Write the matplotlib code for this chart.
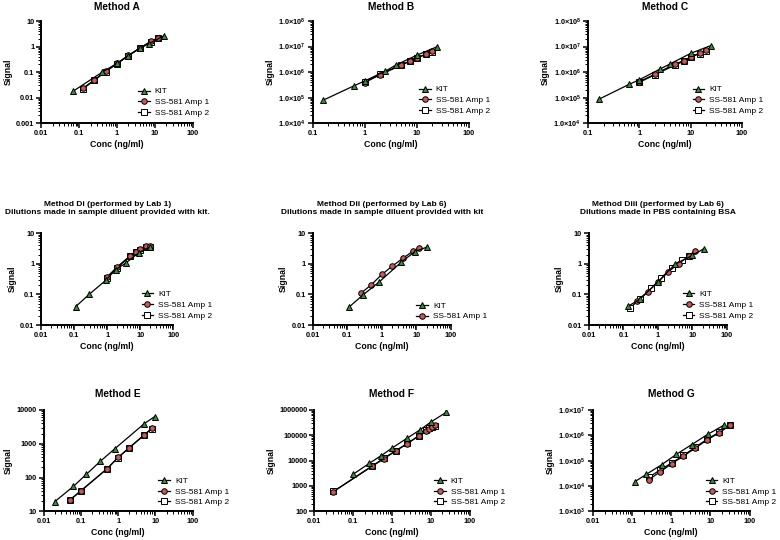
import math
import matplotlib
matplotlib.use("Agg")
import matplotlib.pyplot as plt
from matplotlib.ticker import FuncFormatter, LogLocator, NullFormatter

plt.rcParams['font.family'] = ['Liberation Sans', 'DejaVu Sans']
plt.rcParams['mathtext.fontset'] = 'custom'
plt.rcParams['mathtext.rm'] = 'Liberation Sans:bold'
plt.rcParams['mathtext.bf'] = 'Liberation Sans:bold'
plt.rcParams['mathtext.default'] = 'rm'

# --- data ---
a_kit_x = [0.07, 0.41, 1.0, 2.0, 4.0, 7.0, 17.0]
a_kit_y = [0.018, 0.1, 0.22, 0.44, 0.85, 1.3, 2.6]
a_amp1_x = [0.125, 0.25, 0.5, 1, 2, 4, 8, 12]
a_amp1_y = [0.023, 0.049, 0.108, 0.22, 0.45, 0.86, 1.65, 2.2]
a_amp2_y = [0.022, 0.047, 0.104, 0.21, 0.44, 0.88, 1.55, 2.15]

b_kit_x = [0.16, 0.62, 1.0, 2.5, 4.0, 10, 25]
b_kit_y = [8e4, 2.9e5, 4.5e5, 1.1e6, 1.9e6, 4.6e6, 1.0e7]
b_amp1_x = [1, 2, 5, 7.5, 10, 15, 20]
b_amp1_y = [3.9e5, 8.0e5, 1.85e6, 2.7e6, 3.6e6, 5.1e6, 6.5e6]
b_amp2_y = [4.2e5, 8.2e5, 1.95e6, 2.75e6, 3.5e6, 5.0e6, 6.3e6]

c_kit_x = [0.16, 0.63, 1.0, 2.5, 4.0, 10, 25]
c_kit_y = [8.5e4, 3.3e5, 5e5, 1.3e6, 2.1e6, 5.4e6, 1.1e7]
c_amp1_x = [1, 2, 5, 7.5, 10, 15, 20]
c_amp1_y = [4.2e5, 8.2e5, 2.1e6, 2.8e6, 4.0e6, 5.5e6, 7.2e6]
c_amp2_y = [4.0e5, 7.8e5, 1.9e6, 2.7e6, 3.8e6, 5.3e6, 7.0e6]

di_kit_x = [0.11, 0.28, 0.9, 1.8, 3.6, 9.0, 20]
di_kit_y = [0.04, 0.1, 0.29, 0.65, 1.05, 2.3, 3.6]
di_amp1_x = [1, 2, 5, 7.5, 10, 15, 20]
di_amp1_y = [0.38, 0.8, 1.85, 2.5, 3.0, 3.7, 3.8]
di_amp2_y = [0.35, 0.74, 1.78, 2.4, 2.85, 3.5, 3.6]

dii_kit_x = [0.11, 0.28, 0.85, 3.6, 9.0, 21]
dii_kit_y = [0.038, 0.095, 0.26, 1.12, 2.5, 3.6]
dii_amp1_x = [0.25, 0.5, 1, 2, 4, 8, 12]
dii_amp1_y = [0.11, 0.21, 0.45, 0.84, 1.5, 2.6, 3.4]

diii_kit_x = [0.14, 0.31, 1.0, 3.2, 10, 21]
diii_kit_y = [0.042, 0.072, 0.26, 1.0, 1.9, 3.1]
diii_amp1_x = [0.25, 0.5, 1, 2, 4, 8, 12]
diii_amp1_y = [0.062, 0.122, 0.25, 0.56, 1.0, 1.87, 2.6]
diii_amp2_x = [0.156, 0.3125, 0.625, 1.25, 2.5, 5, 8]
diii_amp2_y = [0.037, 0.072, 0.157, 0.35, 0.74, 1.38, 1.8]

e_kit_x = [0.02, 0.063, 0.14, 0.33, 0.8, 5, 9.5]
e_kit_y = [19.5, 55, 125, 300, 700, 3900, 6300]
e_amp1_x = [0.05, 0.1, 0.5, 1, 2, 5, 8]
e_amp1_y = [21, 41, 180, 395, 760, 1800, 2850]
e_amp2_y = [22, 40, 182, 390, 770, 1820, 2800]

f_kit_x = [0.1, 0.26, 0.52, 1, 2.4, 5.2, 10, 25]
f_kit_y = [2900, 7800, 15500, 31000, 75000, 160000, 330000, 800000]
f_amp1_x = [0.031, 0.31, 0.625, 1.25, 2.5, 5, 7.5, 9, 11, 12.5]
f_amp1_y = [600, 6000, 12000, 24000, 47000, 95000, 150000, 180000, 220000, 245000]
f_amp2_y = [610, 6200, 12500, 24500, 48000, 97000, 155000, 185000, 215000, 235000]

g_kit_x = [0.12, 0.23, 0.57, 1.34, 3.35, 8.6, 22.7]
g_kit_y = [15000, 28600, 69000, 175000, 430000, 1.09e6, 2.55e6]
g_amp1_x = [0.27, 0.51, 1.04, 2.06, 4.1, 8.2, 16.5, 32]
g_amp1_y = [18000, 35000, 77000, 150000, 313000, 650000, 1.23e6, 2.5e6]
g_amp2_y = [22000, 42000, 82000, 160000, 335000, 690000, 1.3e6, 2.6e6]

GREEN = '#3c8a3c'
RED = '#c65a5a'
# marker, face colour, z-order (circles sit on top of the open squares)
STYLE = {'KIT': ('^', GREEN, 4), 'SS-581 Amp 1': ('o', RED, 3),
         'SS-581 Amp 2': ('s', 'white', 2)}


def plain_fmt(v, _):
    if v >= 1:
        return f'{int(round(v))}'
    return f'{v:g}'


def sci_fmt(v, _):
    exp = int(round(math.log10(v)))
    return r'1.0$\times$10$^{%d}$' % exp


def panel(rect, title, title_size, xlim, ylim, sci, series, leg_xy, title_pad):
    ax = fig.add_axes(rect)
    for x, y, lab in series:
        mk, fc, z = STYLE[lab]
        ax.plot(x, y, color='black', lw=0.9, marker=mk, ms=4,
                mfc=fc, mec='black', mew=0.7, label=lab, zorder=z)
    ax.set_xscale('log')
    ax.set_yscale('log')
    ax.set_xlim(xlim)
    ax.set_ylim(ylim)
    for s in ['top', 'right']:
        ax.spines[s].set_visible(False)
    for s in ['left', 'bottom']:
        ax.spines[s].set_linewidth(1.4)
    ax.xaxis.set_major_locator(LogLocator(base=10, numticks=10))
    ax.yaxis.set_major_locator(LogLocator(base=10, numticks=10))
    ax.xaxis.set_minor_locator(LogLocator(base=10, subs=range(2, 10), numticks=10))
    ax.yaxis.set_minor_locator(LogLocator(base=10, subs=range(2, 10), numticks=10))
    ax.xaxis.set_minor_formatter(NullFormatter())
    ax.yaxis.set_minor_formatter(NullFormatter())
    ax.xaxis.set_major_formatter(FuncFormatter(plain_fmt))
    ax.yaxis.set_major_formatter(FuncFormatter(sci_fmt if sci else plain_fmt))
    ax.tick_params(which='major', length=3.5, width=1.1, labelsize=5.3, pad=1.5)
    ax.tick_params(which='minor', length=2, width=0.7)
    for lbl in ax.get_xticklabels() + ax.get_yticklabels():
        lbl.set_fontweight('bold')
    ax.set_xlabel('Conc (ng/ml)', fontsize=6.3, fontweight='bold', labelpad=2)
    ax.set_ylabel('Signal', fontsize=6.3, fontweight='bold', labelpad=2.5)
    ax.set_title(title, fontsize=title_size, fontweight='bold', pad=title_pad,
                 linespacing=1.15)
    ax.legend(loc='lower left', bbox_to_anchor=leg_xy, frameon=False,
              fontsize=6, handlelength=1.4, handletextpad=0.6,
              labelspacing=0.35, borderpad=0, borderaxespad=0)
    return ax


fig = plt.figure(figsize=(7.8, 5.4), dpi=100)

panel([0.053, 0.772, 0.194, 0.189], 'Method A', 7.3, (0.01, 100), (0.001, 10), False,
      [(a_kit_x, a_kit_y, 'KIT'),
       (a_amp1_x, a_amp1_y, 'SS-581 Amp 1'),
       (a_amp1_x, a_amp2_y, 'SS-581 Amp 2')],
      (0.64, 0.06), 8)
panel([0.401, 0.772, 0.200, 0.189], 'Method B', 7.3, (0.1, 100), (1e4, 1e8), True,
      [(b_kit_x, b_kit_y, 'KIT'),
       (b_amp1_x, b_amp1_y, 'SS-581 Amp 1'),
       (b_amp1_x, b_amp2_y, 'SS-581 Amp 2')],
      (0.68, 0.08), 8)
panel([0.754, 0.772, 0.197, 0.189], 'Method C', 7.3, (0.1, 100), (1e4, 1e8), True,
      [(c_kit_x, c_kit_y, 'KIT'),
       (c_amp1_x, c_amp1_y, 'SS-581 Amp 1'),
       (c_amp1_x, c_amp2_y, 'SS-581 Amp 2')],
      (0.68, 0.08), 8)

panel([0.053, 0.398, 0.169, 0.170],
      'Method Di (performed by Lab 1)\nDilutions made in sample diluent provided with kit.',
      6.0, (0.01, 100), (0.01, 10), False,
      [(di_kit_x, di_kit_y, 'KIT'),
       (di_amp1_x, di_amp1_y, 'SS-581 Amp 1'),
       (di_amp1_x, di_amp2_y, 'SS-581 Amp 2')],
      (0.76, 0.06), 14)
panel([0.401, 0.398, 0.177, 0.170],
      'Method Dii (performed by Lab 6)\nDilutions made in sample diluent provided with kit',
      6.0, (0.01, 100), (0.01, 10), False,
      [(dii_kit_x, dii_kit_y, 'KIT'),
       (dii_amp1_x, dii_amp1_y, 'SS-581 Amp 1')],
      (0.75, 0.05), 14)
panel([0.755, 0.398, 0.177, 0.170],
      'Method Diii (performed by Lab 6)\nDilutions made in PBS containing BSA',
      6.0, (0.01, 100), (0.01, 10), False,
      [(diii_kit_x, diii_kit_y, 'KIT'),
       (diii_amp1_x, diii_amp1_y, 'SS-581 Amp 1'),
       (diii_amp2_x, diii_amp2_y, 'SS-581 Amp 2')],
      (0.68, 0.06), 14)

panel([0.056, 0.053, 0.191, 0.188], 'Method E', 7.3, (0.01, 100), (10, 10000), False,
      [(e_kit_x, e_kit_y, 'KIT'),
       (e_amp1_x, e_amp1_y, 'SS-581 Amp 1'),
       (e_amp1_x, e_amp2_y, 'SS-581 Amp 2')],
      (0.77, 0.05), 9)
panel([0.403, 0.053, 0.199, 0.188], 'Method F', 7.3, (0.01, 100), (100, 1e6), False,
      [(f_kit_x, f_kit_y, 'KIT'),
       (f_amp1_x, f_amp1_y, 'SS-581 Amp 1'),
       (f_amp1_x, f_amp2_y, 'SS-581 Amp 2')],
      (0.77, 0.05), 9)
panel([0.760, 0.053, 0.201, 0.188], 'Method G', 7.3, (0.01, 100), (1e3, 1e7), True,
      [(g_kit_x, g_kit_y, 'KIT'),
       (g_amp1_x, g_amp1_y, 'SS-581 Amp 1'),
       (g_amp1_x, g_amp2_y, 'SS-581 Amp 2')],
      (0.72, 0.05), 9)

fig.savefig('out.png', dpi=100)
